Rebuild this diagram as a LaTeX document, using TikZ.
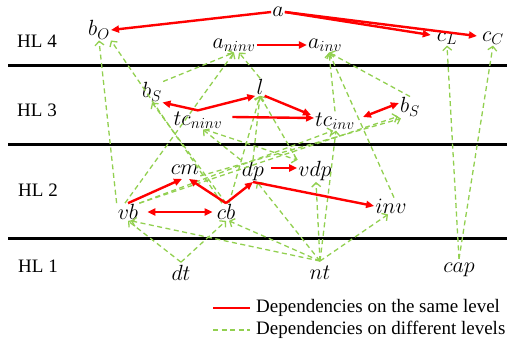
\RequirePackage{fix-cm}
\documentclass[tikz,border=0pt]{standalone}
\usepackage{fontspec}
\setmainfont{Liberation Serif}
\usetikzlibrary{arrows.meta}
\definecolor{lgreen}{RGB}{146,208,80}
\begin{document}
\begin{tikzpicture}[x=1pt,y=-1pt,
  lvl/.style={font=\fontsize{19}{22}\selectfont, inner sep=0pt},
  var/.style={font=\fontsize{22}{26}\selectfont, inner sep=1pt},
  same/.style={draw=red, line width=2.4pt, -{Triangle[length=8pt,width=7pt]}},
  samebi/.style={draw=red, line width=2.4pt, {Triangle[length=8pt,width=7pt]}-{Triangle[length=8pt,width=7pt]}},
  diff/.style={draw=lgreen, line width=1.3pt, dash pattern=on 5pt off 3.5pt, -{Straight Barb[length=4pt,width=9pt]}},
  levelline/.style={line width=3pt, black}
]
\useasboundingbox (0,0) rectangle (507,346);

% level separators
\draw[levelline] (8,65) -- (507,65);
\draw[levelline] (8,144) -- (507,144);
\draw[levelline] (8,238) -- (507,238);

% level labels
\node[lvl] (hl4) at (37,41) {HL 4};
\node[lvl] (hl3) at (37,110) {HL 3};
\node[lvl] (hl2) at (38,190) {HL 2};
\node[lvl] (hl1) at (38,266) {HL 1};

% variables
\node[var] (a)   at (278,12)  {$a$};
\node[var] (bO)  at (99,30)   {$b_O$};
\node[var] (an)  at (234,45)  {$a_{ninv}$};
\node[var] (ai)  at (325,45)  {$a_{inv}$};
\node[var] (cL)  at (447,38)  {$c_L$};
\node[var] (cC)  at (493,38)  {$c_C$};
\node[var] (bSl) at (152,92)  {$b_S$};
\node[var] (l)   at (260,87)  {$l$};
\node[var] (tcn) at (198,120) {$tc_{ninv}$};
\node[var] (tci) at (335,121) {$tc_{inv}$};
\node[var] (bSr) at (410,107) {$b_S$};
\node[var] (cm)  at (185,170) {$cm$};
\node[var] (dp)  at (253,171) {$dp$};
\node[var] (vdp) at (315,171) {$vdp$};
\node[var] (vb)  at (128,212) {$vb$};
\node[var] (cb)  at (226,212) {$cb$};
\node[var] (inv) at (391,206) {$inv$};
\node[var] (dt)  at (181,273) {$dt$};
\node[var] (nt)  at (320,273) {$nt$};
\node[var] (cap) at (459,270) {$cap$};

% dependencies on different levels (green dashed)
\draw[diff] (vb.north west) -- (bO.south);
\draw[diff] ([shift={(-4,0)}]cb.north) -- (bO.south east);
\draw[diff] (cb.north) -- (bSl.south);
\draw[diff] (bSl.north east) -- (an.south);
\draw[diff] ([shift={(-3,0)}]vb.north) -- (an.south);
\draw[diff] (l.north) -- ([shift={(5,0)}]an.south);
\draw[diff] (bSr.north) -- ([shift={(4,0)}]ai.south);
\draw[diff] (tci.north) -- ([shift={(4,0)}]ai.south);
\draw[diff] ([shift={(3,0)}]inv.north) -- ([shift={(4,0)}]ai.south);
\draw[diff] ([shift={(0,-3)}]cap.north) -- (cL.south);
\draw[diff] ([shift={(0,-3)}]cap.north) -- (cC.south);
\draw[diff] ([shift={(3,0)}]cb.north) -- (l.south);
\draw[diff] (dp.north) -- (l.south);
\draw[diff] (vdp.north west) -- (l.south);
\draw[diff] (dp.north west) -- ([shift={(5,0)}]tcn.south);
\draw[diff] ([shift={(7,0)}]tcn.south) -- (vdp.north west);
\draw[diff] (vb.north east) -- ([shift={(-1,-1)}]bSr.south west);
\draw[diff] (cm.south east) -- ([shift={(2,1)}]bSr.south west);
\draw[diff] (vb.north east) -- ([shift={(-2,0)}]tci.south);
\draw[diff] ([shift={(0,-4)}]nt.north) -- ([shift={(1,0)}]tci.south);
\draw[diff] ([shift={(0,-4)}]nt.north) -- ([shift={(1,0)}]vdp.south);
\draw[diff] ([shift={(0,-4)}]nt.north) -- ([shift={(4,0)}]dp.south);
\draw[diff] ([shift={(0,-4)}]nt.north) -- ([shift={(3,0)}]cb.south);
\draw[diff] ([shift={(0,-4)}]nt.north) -- ([shift={(3,0)}]vb.south);
\draw[diff] ([shift={(0,-4)}]nt.north) -- ([shift={(-3,0)}]inv.south);
\draw[diff] ([shift={(0,-2)}]dt.north) -- (vb.south);
\draw[diff] ([shift={(0,-2)}]dt.north) -- (cb.south);

% dependencies on the same level (red)
\draw[same] (a.west) -- (bO.east);
\draw[same] (a.east) -- ([shift={(-5,-3)}]cL.west);
\draw[same] (a.east) -- ([shift={(-4,-2)}]cC.west);
\draw[same] (an.east) -- (ai.west);
\draw[same] (tcn.north) -- (bSl.-45);
\draw[same] (tcn.north) -- (l.south west);
\draw[same] ([shift={(9,-3)}]tcn.east) -- ([shift={(0,-3)}]tci.west);
\draw[same] (l.south east) -- ([shift={(-3,-6)}]tci.west);
\draw[samebi] ([shift={(7,-4)}]tci.east) -- ([shift={(0,-4)}]bSr.west);
\draw[same] (vb.north) -- ([shift={(-3,3)}]cm.south);
\draw[same] (cb.north) -- ([shift={(4,3)}]cm.south);
\draw[same] (cb.north) -- (dp.south);
\draw[same] (dp.south) -- (inv.west);
\draw[same] ([shift={(6,-3)}]dp.east) -- ([shift={(0,-3)}]vdp.west);
\draw[samebi] ([shift={(8,0)}]vb.east) -- ([shift={(-3,0)}]cb.west);

% legend
\coordinate (lr1) at (213,308);
\coordinate (lr2) at (250,308);
\coordinate (lg1) at (213,330);
\coordinate (lg2) at (250,330);
\draw[draw=red, line width=2.4pt] (lr1) -- (lr2);
\draw[draw=lgreen, line width=1.3pt, dash pattern=on 5pt off 3.5pt] (lg1) -- (lg2);
\node[lvl, anchor=west] (lt1) at (256,308) {Dependencies on the same level};
\node[lvl, anchor=west] (lt2) at (256,330) {Dependencies on different levels};
\end{tikzpicture}
\end{document}
